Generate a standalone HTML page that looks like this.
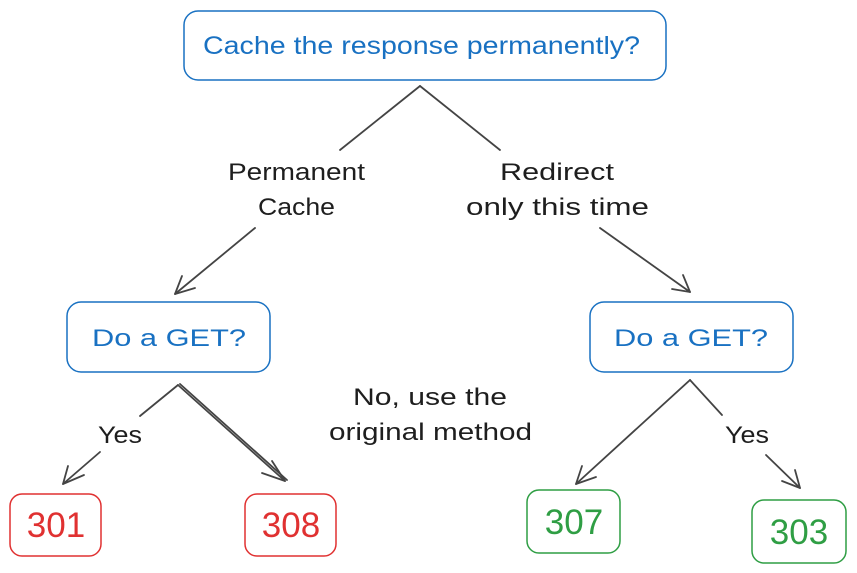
<!DOCTYPE html>
<html><head><meta charset="utf-8"><style>
html,body{margin:0;padding:0;background:#fff;}
svg{display:block;}
text{font-family:"Liberation Sans",sans-serif;}
</style></head><body>
<svg width="857" height="573" viewBox="0 0 857 573" xmlns="http://www.w3.org/2000/svg">
<g fill="none" stroke-linecap="round" stroke-linejoin="round">
<rect x="184" y="11" width="482" height="69" rx="14" stroke="#1971c2" stroke-width="1.5"/>
<rect x="67" y="302" width="203" height="70" rx="14" stroke="#1971c2" stroke-width="1.5"/>
<rect x="590" y="302" width="203" height="70" rx="14" stroke="#1971c2" stroke-width="1.5"/>
<rect x="10" y="494" width="91" height="62" rx="12" stroke="#e03131" stroke-width="1.5"/>
<rect x="245" y="494" width="91" height="62" rx="12" stroke="#e03131" stroke-width="1.5"/>
<rect x="527" y="490" width="93" height="63" rx="12" stroke="#2f9e44" stroke-width="1.5"/>
<rect x="752" y="500" width="94" height="63" rx="12" stroke="#2f9e44" stroke-width="1.5"/>
<g stroke="#444" stroke-width="1.8">
<line x1="420" y1="86" x2="340" y2="150"/>
<line x1="420" y1="86" x2="500" y2="150"/>
<line x1="255" y1="228" x2="175" y2="294"/>
<polyline points="182,276 175,294 195,288"/>
<line x1="600" y1="228" x2="690" y2="292"/>
<polyline points="672,289 690,292 683,275"/>
<line x1="178" y1="385" x2="140" y2="416"/>
<line x1="100" y1="452" x2="63" y2="484"/>
<polyline points="68,466 63,484 84,475"/>
<line x1="178" y1="385" x2="285" y2="481"/>
<line x1="180" y1="384" x2="287" y2="480"/>
<polyline points="272,461 285,481 262,473"/>
<line x1="690" y1="380" x2="576" y2="484"/>
<polyline points="582,466 576,484 596,477"/>
<line x1="690" y1="380" x2="722" y2="415"/>
<line x1="766" y1="455" x2="800" y2="488"/>
<polyline points="782,481 800,488 795,470"/>
</g>
</g>
<g font-size="24" lengthAdjust="spacingAndGlyphs">
<text x="203" y="54" fill="#1971c2" font-size="25" textLength="437" lengthAdjust="spacingAndGlyphs">Cache the response permanently?</text>
<text x="92" y="346" fill="#1971c2" textLength="154" lengthAdjust="spacingAndGlyphs">Do a GET?</text>
<text x="614" y="346" fill="#1971c2" textLength="154" lengthAdjust="spacingAndGlyphs">Do a GET?</text>
<text x="228" y="180" fill="#1e1e1e" textLength="137" lengthAdjust="spacingAndGlyphs">Permanent</text>
<text x="258" y="215" fill="#1e1e1e" textLength="77" lengthAdjust="spacingAndGlyphs">Cache</text>
<text x="500" y="180" fill="#1e1e1e" textLength="114" lengthAdjust="spacingAndGlyphs">Redirect</text>
<text x="466" y="215" fill="#1e1e1e" textLength="183" lengthAdjust="spacingAndGlyphs">only this time</text>
<text x="353" y="405" fill="#1e1e1e" textLength="154" lengthAdjust="spacingAndGlyphs">No, use the</text>
<text x="329" y="440" fill="#1e1e1e" textLength="203" lengthAdjust="spacingAndGlyphs">original method</text>
<text x="98" y="443" fill="#1e1e1e" textLength="44" lengthAdjust="spacingAndGlyphs">Yes</text>
<text x="725" y="443" fill="#1e1e1e" textLength="44" lengthAdjust="spacingAndGlyphs">Yes</text>
</g>
<g text-anchor="middle" font-size="35">
<text x="56" y="537" fill="#e03131">301</text>
<text x="291" y="537" fill="#e03131">308</text>
<text x="574" y="534" fill="#2f9e44">307</text>
<text x="799" y="544" fill="#2f9e44">303</text>
</g>
</svg>
</body></html>
